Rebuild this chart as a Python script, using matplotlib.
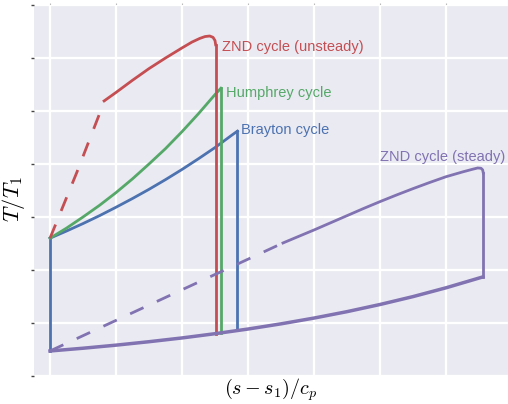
import matplotlib
matplotlib.use("Agg")
import matplotlib.pyplot as plt

plt.rcParams['mathtext.fontset'] = 'cm'
plt.rcParams['font.family'] = ['Liberation Sans', 'DejaVu Sans']

# ---- data (x=(s-s1)/cp units, y=T/T1 units) ----
# common heat-rejection isobar (bottom curve)
bottom_x = [0.0, 0.5, 1.0, 1.5, 2.0, 2.5, 3.0, 3.5, 4.0, 4.5, 5.0, 5.5, 6.0, 6.56]
bottom_y = [0.472, 0.524, 0.582, 0.647, 0.718, 0.798, 0.886, 0.984, 1.093, 1.214, 1.349, 1.498, 1.664, 1.87]

# compression (vertical at x=0)
comp_x = [0.0, 0.0]
comp_y = [0.472, 2.60]

# Brayton heat addition
bray_x = [0.0, 0.25, 0.5, 0.75, 1.0, 1.25, 1.5, 1.75, 2.0, 2.25, 2.5, 2.75, 2.84]
bray_y = [2.60, 2.735, 2.876, 3.025, 3.184, 3.349, 3.522, 3.705, 3.897, 4.10, 4.31, 4.54, 4.62]
bray_exp_x = [2.84, 2.84]
bray_exp_y = [4.62, 0.86]

# Humphrey heat addition
hum_x = [0.0, 0.25, 0.5, 0.75, 1.0, 1.25, 1.5, 1.75, 2.0, 2.25, 2.5, 2.59]
hum_y = [2.60, 2.79, 3.00, 3.22, 3.46, 3.72, 4.00, 4.29, 4.61, 4.95, 5.31, 5.43]
hum_exp_x = [2.59, 2.59]
hum_exp_y = [5.43, 0.82]

# ZND unsteady
zndu_dash_x = [0.0, 0.167, 0.409, 0.742, 0.82]
zndu_dash_y = [2.60, 3.11, 3.85, 4.92, 5.19]
zndu_x = [0.82, 1.0, 1.25, 1.5, 1.75, 2.0, 2.15, 2.27, 2.35, 2.42, 2.47, 2.50, 2.51]
zndu_y = [5.19, 5.35, 5.58, 5.80, 6.00, 6.19, 6.30, 6.37, 6.405, 6.415, 6.39, 6.33, 6.25]
zndu_exp_x = [2.51, 2.51]
zndu_exp_y = [6.25, 0.80]

# ZND steady
znds_dash_x = [0.0, 3.53]
znds_dash_y = [0.472, 2.51]
znds_x = [3.53, 3.75, 4.0, 4.25, 4.5, 4.75, 5.0, 5.25, 5.5, 5.75, 6.0, 6.25, 6.4, 6.48, 6.53, 6.555, 6.565]
znds_y = [2.51, 2.625, 2.755, 2.89, 3.025, 3.16, 3.29, 3.415, 3.535, 3.65, 3.76, 3.85, 3.90, 3.925, 3.92, 3.89, 3.83]
znds_exp_x = [6.565, 6.565]
znds_exp_y = [3.83, 1.87]

labels = ["ZND cycle (unsteady)", "Humphrey cycle", "Brayton cycle", "ZND cycle (steady)"]
label_x = [2.61, 2.66, 2.90, 5.0]
label_y = [6.21, 5.345, 4.64, 4.14]

blue, green, red, purple = "#4C72B0", "#55A868", "#C44E52", "#8172B2"
label_colors = [red, green, blue, purple]

fig = plt.figure(figsize=(5.08, 4.04), dpi=100)
ax = fig.add_axes([34 / 508, 28 / 404, 474 / 508, 371 / 404])
ax.set_facecolor("#EAEAF2")
for s in ax.spines.values():
    s.set_visible(False)
ax.grid(True, color="white", lw=1.6)
ax.set_axisbelow(True)

lw = 2.0
dash = (0, (5.3, 5.3))
ax.plot(comp_x, comp_y, color=blue, lw=lw)
ax.plot(bray_x, bray_y, color=blue, lw=lw)
ax.plot(bray_exp_x, bray_exp_y, color=blue, lw=lw)
ax.plot(hum_x, hum_y, color=green, lw=lw)
ax.plot(hum_exp_x, hum_exp_y, color=green, lw=lw)
ax.plot(zndu_dash_x, zndu_dash_y, color=red, lw=lw, linestyle=dash)
ax.plot(zndu_x, zndu_y, color=red, lw=lw, solid_joinstyle='round')
ax.plot(zndu_exp_x, zndu_exp_y, color=red, lw=lw)
ax.plot(znds_dash_x, znds_dash_y, color=purple, lw=lw, linestyle=dash)
ax.plot(znds_x, znds_y, color=purple, lw=lw, solid_joinstyle='round')
ax.plot(znds_exp_x, znds_exp_y, color=purple, lw=lw)
ax.plot(bottom_x, bottom_y, color=purple, lw=lw + 0.5)

for t, x, y, c in zip(labels, label_x, label_y, label_colors):
    ax.text(x, y, t, color=c, fontsize=10.5, ha='left', va='center')

ax.set_xlim(-0.2424, 6.9394)
ax.set_ylim(0, 7)
ax.set_xticks(range(0, 7))
ax.set_yticks(range(0, 8))
ax.set_xticklabels([])
ax.set_yticklabels([])
ax.tick_params(axis='x', top=True, bottom=False, length=1.5, color='#BBBBBB', width=0.8)
ax.tick_params(axis='y', left=True, length=2, color='#444444', width=1)

ax.set_xlabel(r"$(s - s_1)/c_p$", fontsize=14.5)
ax.set_ylabel(r"$T/T_1$", fontsize=16)
ax.xaxis.set_label_coords(0.5, -0.002)
ax.yaxis.set_label_coords(-0.015, 0.477)

fig.savefig("out.png", dpi=100)
